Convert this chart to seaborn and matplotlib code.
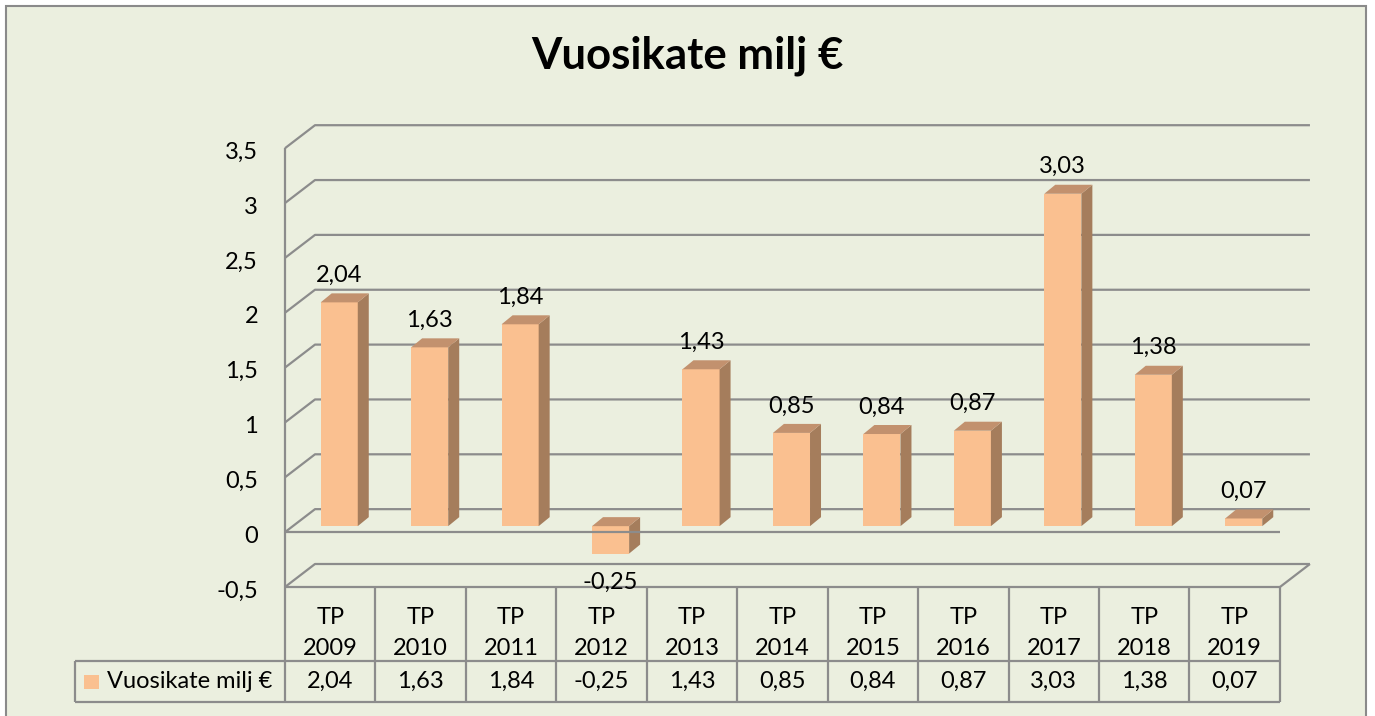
import pandas as pd
import matplotlib.pyplot as plt
import seaborn as sns
from matplotlib.patches import Polygon, Rectangle

# --- datos ---
years = ["2009", "2010", "2011", "2012", "2013", "2014", "2015", "2016", "2017", "2018", "2019"]
categories = ["TP\n" + y for y in years]
values = [2.04, 1.63, 1.84, -0.25, 1.43, 0.85, 0.84, 0.87, 3.03, 1.38, 0.07]
yticks = [-0.5, 0, 0.5, 1, 1.5, 2, 2.5, 3, 3.5]
series_name = "Vuosikate milj €"
title = "Vuosikate milj €"

def fi(v):
    # formato finlandés con coma decimal
    s = f"{v:g}" if v in yticks else f"{v:.2f}"
    return s.replace(".", ",")

# --- estilo ---
BG = "#EBEFDF"
FRONT = "#FAC090"
SIDE = "#A57D5C"
TOP = "#C2916E"
GRID = "#8C8C8C"
FS = 17
W, H = 1375, 716
PX_X = 90.45    # px por categoría
PX_Y = 109.7    # px por unidad
X0_PX, Y0_PX = 285, 587   # esquina frontal (-0.5, -0.5)

sns.set_theme(style="white")
plt.rcParams['font.family'] = ['Lato', 'DejaVu Sans']
plt.rcParams['text.color'] = 'black'

fig = plt.figure(figsize=(W / 100, H / 100), dpi=100, facecolor="white")
fig.patches.append(Rectangle((6 / W, -0.02), 1360 / W, 1 - 6 / H + 0.02, transform=fig.transFigure,
                             facecolor=BG, edgecolor="#8A8A8A", lw=1.5, zorder=-5))
ax = fig.add_axes([0, 0, 1, 1], zorder=1)
ax.patch.set_alpha(0)

df = pd.DataFrame({"cat": categories, "val": values})
sns.barplot(data=df, x="cat", y="val", color=FRONT, width=0.41, saturation=1,
            edgecolor="none", ax=ax, zorder=3)

ax.set_xlim(-0.5 - X0_PX / PX_X, -0.5 + (W - X0_PX) / PX_X)
ax.set_ylim(-0.5 - (H - Y0_PX) / PX_Y, -0.5 + Y0_PX / PX_Y)
ax.axis("off")

n = len(categories)
bx, by = 30 / PX_X, 23 / PX_Y          # profundidad de la pared
fx, fy = 9 / PX_X, 6 / PX_Y            # posición de la cara frontal de las barras
dx, dy = 11 / PX_X, 9 / PX_Y           # profundidad de cada barra
lk = dict(color=GRID, lw=1.6, solid_capstyle="butt")

# paredes y rejilla
for t in yticks:
    ax.plot([-0.5, -0.5 + bx, n - 0.5 + bx], [t, t + by, t + by], zorder=1, **lk)
ax.plot([-0.5, -0.5], [-0.5, 3.5], zorder=1, **lk)
ax.plot([n - 0.5, n - 0.5 + bx], [-0.5, -0.5 + by], zorder=1, **lk)
ax.plot([-0.5, n - 0.5], [0, 0], zorder=5, **lk)

# barras 3D
for p, v in zip(ax.patches, values):
    p.set_x(p.get_x() + fx)
    p.set_y(p.get_y() + fy)
    x0, x1 = p.get_x(), p.get_x() + p.get_width()
    ya, yb = p.get_y(), p.get_y() + p.get_height()
    lo, hi = min(ya, yb), max(ya, yb)
    ax.add_patch(Polygon([(x1, lo), (x1 + dx, lo + dy), (x1 + dx, hi + dy), (x1, hi)],
                         closed=True, facecolor=SIDE, edgecolor="none", zorder=3))
    ax.add_patch(Polygon([(x0, hi), (x1, hi), (x1 + dx, hi + dy), (x0 + dx, hi + dy)],
                         closed=True, facecolor=TOP, edgecolor="none", zorder=3))
    cx = (x0 + x1) / 2
    if v >= 0:
        ax.text(cx, hi + 27 / PX_Y, fi(v), ha="center", va="center", fontsize=FS, zorder=6)
    else:
        ax.text(cx, lo - 29 / PX_Y, fi(v), ha="center", va="center", fontsize=FS, zorder=6)

# etiquetas eje y
for t in yticks:
    ax.text(-0.5 - 27 / PX_X, t - 4 / PX_Y, fi(t), ha="right", va="center", fontsize=FS)

# tabla de datos
r1 = -0.5 - 74 / PX_Y
r2 = -0.5 - 115 / PX_Y
xl = -0.5 - 210 / PX_X
for i in range(n + 1):
    ax.plot([i - 0.5, i - 0.5], [-0.5, r2], zorder=2, **lk)
ax.plot([-0.5, n - 0.5], [-0.5, -0.5], zorder=2, **lk)
ax.plot([xl, n - 0.5], [r1, r1], zorder=2, **lk)
ax.plot([xl, n - 0.5], [r2, r2], zorder=2, **lk)
ax.plot([xl, xl], [r1, r2], zorder=2, **lk)
for i, (c, v) in enumerate(zip(categories, values)):
    ax.text(i, -0.5 - 46 / PX_Y, c, ha="center", va="center", fontsize=FS, linespacing=1.6)
    ax.text(i, (r1 + r2) / 2, fi(v), ha="center", va="center", fontsize=FS)
ax.add_patch(Rectangle((xl + 9 / PX_X, (r1 + r2) / 2 - 7 / PX_Y), 15 / PX_X, 14 / PX_Y,
                       facecolor=FRONT, edgecolor="none"))
ax.text(xl + 32 / PX_X, (r1 + r2) / 2, series_name, ha="left", va="center", fontsize=FS)

fig.text(687 / W, 1 - 56 / H, title, ha="center", va="center", fontsize=31.5, fontweight="bold")

fig.savefig("out.png", dpi=100, facecolor="white")
